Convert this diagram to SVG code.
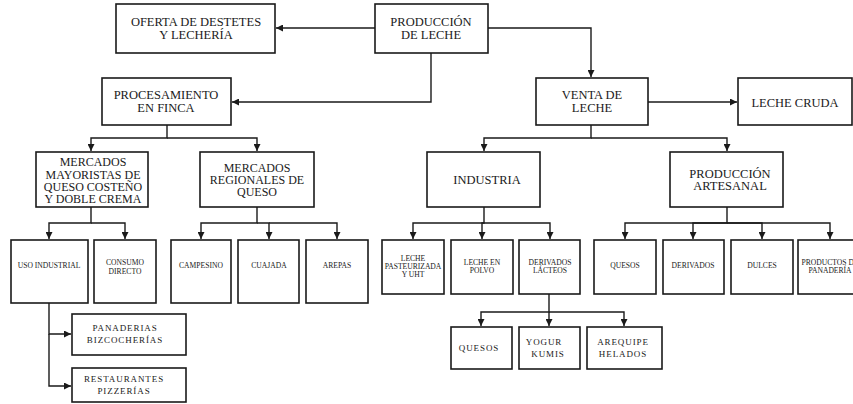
<svg xmlns="http://www.w3.org/2000/svg" width="853" height="404" viewBox="0 0 853 404">
  <style>
    .box { fill: #ffffff; stroke: #1a1a1a; stroke-width: 1.6; }
    .wire { fill: none; stroke: #1a1a1a; stroke-width: 1.4; }
    text { font-family: "Liberation Serif", "Times New Roman", serif; fill: #1a1a1a; text-anchor: middle; }
    .t1 { font-size: 12.5px; }
    .tm { font-size: 12px; }
    .t2 { font-size: 7.6px; }
    .t3 { font-size: 9px; letter-spacing: 0.9px; }
  </style>
  <defs>
    <marker id="arrow" viewBox="0 0 7 7" refX="7" refY="3.5" markerWidth="7" markerHeight="7" markerUnits="userSpaceOnUse" orient="auto">
      <path d="M0,0 L7,3.5 L0,7 z" fill="#1a1a1a"/>
    </marker>
  </defs>
  <rect width="853" height="404" fill="#ffffff"/>

  <!-- connectors -->
  <g id="connectors" class="wire" marker-end="url(#arrow)">
    <path d="M375,28 L276,28"/>
    <path d="M488,28 L591,28 L591,77"/>
    <path d="M431,53 L431,102 L232,102"/>
    <path d="M648,102 L737,102"/>
    <!-- procesamiento en finca -->
    <path d="M167,125 L167,138 L91,138 L91,151"/>
    <path d="M167,138 L257,138 L257,151"/>
    <!-- venta de leche -->
    <path d="M591,125 L591,138 L484,138 L484,151"/>
    <path d="M591,138 L727,138 L727,151"/>
    <!-- mercados mayoristas -->
    <path d="M91,207 L91,223 L49,223 L49,239"/>
    <path d="M91,223 L125,223 L125,239"/>
    <!-- mercados regionales -->
    <path d="M257,207 L257,223 L201,223 L201,239"/>
    <path d="M257,223 L269,223 L269,239"/>
    <path d="M269,223 L337,223 L337,239"/>
    <!-- industria -->
    <path d="M484,207 L484,223 L413,223 L413,239"/>
    <path d="M484,223 L482,223 L482,239"/>
    <path d="M484,223 L550,223 L550,239"/>
    <!-- produccion artesanal -->
    <path d="M727,207 L727,223 L625,223 L625,239"/>
    <path d="M727,223 L693,223 L693,239"/>
    <path d="M727,223 L762,223 L762,239"/>
    <path d="M727,223 L830,223 L830,239"/>
    <!-- uso industrial -->
    <path d="M49,293 L49,334 L71,334"/>
    <path d="M49,334 L49,386 L71,386"/>
    <!-- derivados lacteos -->
    <path d="M549,294 L549,312 L481,312 L481,326"/>
    <path d="M549,312 L549,326"/>
    <path d="M549,312 L624,312 L624,326"/>
  </g>

  <!-- top level -->
  <g id="oferta">
    <rect class="box" x="116" y="4" width="159" height="49"/>
    <text class="t1" x="196" y="26">OFERTA DE DESTETES</text>
    <text class="t1" x="196" y="39">Y LECHERÍA</text>
  </g>
  <g id="produccion">
    <rect class="box" x="375" y="4" width="113" height="49"/>
    <text class="t1" x="431" y="26">PRODUCCIÓN</text>
    <text class="t1" x="431" y="39">DE LECHE</text>
  </g>

  <!-- second level -->
  <g id="procesamiento">
    <rect class="box" x="102" y="78" width="129" height="47"/>
    <text class="t1" x="166" y="99">PROCESAMIENTO</text>
    <text class="t1" x="166" y="112">EN FINCA</text>
  </g>
  <g id="venta">
    <rect class="box" x="536" y="78" width="112" height="47"/>
    <text class="t1" x="592" y="99">VENTA DE</text>
    <text class="t1" x="592" y="112">LECHE</text>
  </g>
  <g id="leche-cruda">
    <rect class="box" x="738" y="78" width="114" height="47"/>
    <text class="t1" x="795" y="107">LECHE CRUDA</text>
  </g>

  <!-- third level -->
  <g id="mayoristas">
    <rect class="box" x="36" y="152" width="112" height="55"/>
    <text class="tm" x="93" y="166">MERCADOS</text>
    <text class="tm" x="93" y="178.5">MAYORISTAS DE</text>
    <text class="tm" x="93" y="191">QUESO COSTEÑO</text>
    <text class="tm" x="93" y="203">Y DOBLE CREMA</text>
  </g>
  <g id="regionales">
    <rect class="box" x="200" y="152" width="114" height="55"/>
    <text class="tm" x="257" y="172">MERCADOS</text>
    <text class="tm" x="257" y="184">REGIONALES DE</text>
    <text class="tm" x="257" y="196">QUESO</text>
  </g>
  <g id="industria">
    <rect class="box" x="427" y="152" width="113" height="55"/>
    <text class="t1" x="487" y="184">INDUSTRIA</text>
  </g>
  <g id="artesanal">
    <rect class="box" x="670" y="152" width="113" height="55"/>
    <text class="t1" x="730" y="178">PRODUCCIÓN</text>
    <text class="t1" x="730" y="190">ARTESANAL</text>
  </g>

  <!-- fourth level -->
  <g id="uso-industrial">
    <rect class="box" x="11" y="240" width="77" height="63"/>
    <text class="t2" x="49" y="268">USO INDUSTRIAL</text>
  </g>
  <g id="consumo-directo">
    <rect class="box" x="94" y="240" width="62" height="63"/>
    <text class="t2" x="125" y="265">CONSUMO</text>
    <text class="t2" x="125" y="274">DIRECTO</text>
  </g>
  <g id="campesino">
    <rect class="box" x="171" y="240" width="60" height="63"/>
    <text class="t2" x="201" y="268">CAMPESINO</text>
  </g>
  <g id="cuajada">
    <rect class="box" x="238" y="240" width="61" height="63"/>
    <text class="t2" x="269" y="268">CUAJADA</text>
  </g>
  <g id="arepas">
    <rect class="box" x="306" y="240" width="62" height="63"/>
    <text class="t2" x="337" y="268">AREPAS</text>
  </g>
  <g id="pasteurizada">
    <rect class="box" x="382" y="240" width="62" height="54"/>
    <text class="t2" x="413" y="261">LECHE</text>
    <text class="t2" x="413" y="269">PASTEURIZADA</text>
    <text class="t2" x="413" y="277">Y UHT</text>
  </g>
  <g id="polvo">
    <rect class="box" x="451" y="240" width="62" height="54"/>
    <text class="t2" x="482" y="265">LECHE EN</text>
    <text class="t2" x="482" y="273">POLVO</text>
  </g>
  <g id="derivados-lacteos">
    <rect class="box" x="519" y="240" width="61" height="54"/>
    <text class="t2" x="550" y="265">DERIVADOS</text>
    <text class="t2" x="550" y="273">LÁCTEOS</text>
  </g>
  <g id="quesos-art">
    <rect class="box" x="594" y="240" width="62" height="54"/>
    <text class="t2" x="625" y="268">QUESOS</text>
  </g>
  <g id="derivados-art">
    <rect class="box" x="663" y="240" width="61" height="54"/>
    <text class="t2" x="693" y="268">DERIVADOS</text>
  </g>
  <g id="dulces">
    <rect class="box" x="731" y="240" width="62" height="54"/>
    <text class="t2" x="762" y="268">DULCES</text>
  </g>
  <g id="panaderia">
    <rect class="box" x="798" y="240" width="62" height="54"/>
    <text class="t2" x="830" y="265">PRODUCTOS DE</text>
    <text class="t2" x="830" y="273">PANADERÍA</text>
  </g>

  <!-- fifth level -->
  <g id="panaderias">
    <rect class="box" x="72" y="314" width="114" height="41"/>
    <text class="t3" x="125" y="331">PANADERIAS</text>
    <text class="t3" x="125" y="343">BIZCOCHERÍAS</text>
  </g>
  <g id="restaurantes">
    <rect class="box" x="72" y="368" width="114" height="34"/>
    <text class="t3" x="124" y="382">RESTAURANTES</text>
    <text class="t3" x="124" y="394">PIZZERÍAS</text>
  </g>
  <g id="quesos">
    <rect class="box" x="451" y="327" width="61" height="42"/>
    <text class="t3" x="479" y="351">QUESOS</text>
  </g>
  <g id="yogur">
    <rect class="box" x="519" y="327" width="61" height="42"/>
    <text class="t3" x="544" y="345">YOGUR</text>
    <text class="t3" x="548" y="357">KUMIS</text>
  </g>
  <g id="arequipe">
    <rect class="box" x="587" y="327" width="75" height="42"/>
    <text class="t3" x="623" y="345">AREQUIPE</text>
    <text class="t3" x="623" y="357">HELADOS</text>
  </g>
</svg>
